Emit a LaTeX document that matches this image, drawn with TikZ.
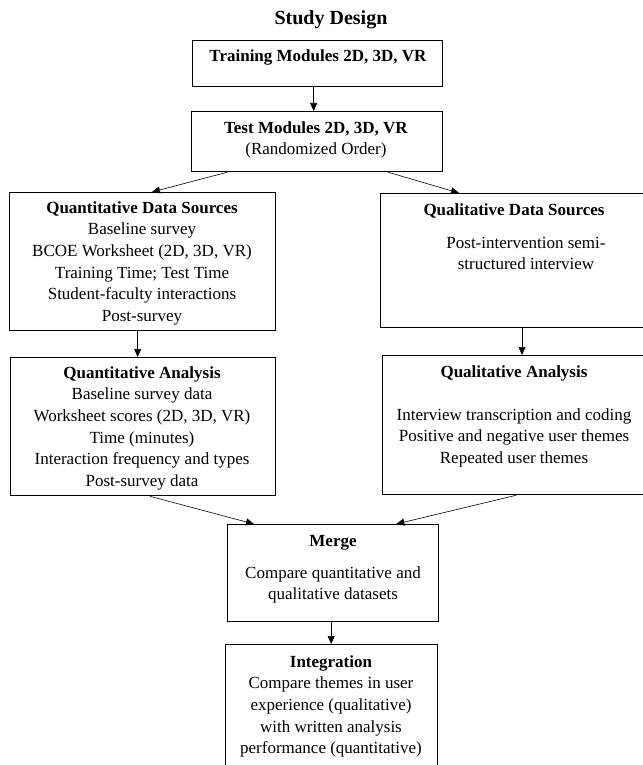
\documentclass[tikz,border=0pt]{standalone}
\usepackage{fontspec}
\setmainfont{Liberation Serif}
\usetikzlibrary{arrows.meta,calc}
\begin{document}
\begin{tikzpicture}[x=1pt,y=-1pt,
  box/.style={draw, line width=1.3pt, rectangle, inner sep=0pt, anchor=north west},
  txt/.style={anchor=north, inner sep=0pt, align=center, font=\fontsize{17}{21.6}\selectfont},
  arr/.style={line width=0.6pt, -{Triangle[length=8pt,width=7pt]}}]
\useasboundingbox (0,0) rectangle (642,765);
% boxes
\node[box, minimum width=250pt, minimum height=46pt] (b1) at (192,40) {};
\node[box, minimum width=251pt, minimum height=60pt] (b2) at (191,111) {};
\node[box, minimum width=266pt, minimum height=138pt] (qds) at (9,192) {};
\node[box, minimum width=268pt, minimum height=134pt] (lds) at (380,193) {};
\node[box, minimum width=265pt, minimum height=138pt] (qa) at (10,357) {};
\node[box, minimum width=266pt, minimum height=139pt] (la) at (382,355) {};
\node[box, minimum width=211pt, minimum height=97pt] (mg) at (227,524) {};
\node[box, minimum width=212pt, minimum height=130pt] (ig) at (225,644) {};
% texts
\node[txt, font=\fontsize{20}{24}\selectfont] (title) at (331,7.2) {\strut\textbf{Study Design}};
\node[txt] (t1) at (318,46) {\strut\textbf{Training Modules 2D, 3D, VR}};
\node[txt] (t2) at (316,118) {\strut\textbf{Test Modules 2D, 3D, VR}\\(Randomized Order)};
\node[txt] (t3) at (142,198) {\strut\textbf{Quantitative Data Sources}\\Baseline survey\\BCOE Worksheet (2D, 3D, VR)\\Training Time; Test Time\\Student-faculty interactions\\Post-survey};
\node[txt] (t4) at (514,200) {\strut\textbf{Qualitative Data Sources}};
\node[txt] (t4b) at (526,233) {\strut Post-intervention semi-\\structured interview};
\node[txt] (t5) at (142,363) {\strut\textbf{Quantitative Analysis}\\Baseline survey data\\Worksheet scores (2D, 3D, VR)\\Time (minutes)\\Interaction frequency and types\\Post-survey data};
\node[txt] (t6) at (514,362) {\strut\textbf{Qualitative Analysis}\\[21.4pt]Interview transcription and coding\\Positive and negative user themes\\Repeated user themes};
\node[txt] (t7) at (333,531) {\strut\textbf{Merge}\\[10.4pt]Compare quantitative and\\qualitative datasets};
\node[txt] (t8) at (331,652) {\strut\textbf{Integration}\\Compare themes in user\\experience (qualitative)\\with written analysis\\performance (quantitative)};
% arrows
\draw[arr] ([xshift=-4pt]b1.south) -- ([xshift=-4pt]b1.south |- b2.north);
\draw[arr] ([xshift=36pt]b2.south west) -- ([xshift=143pt]qds.north west);
\draw[arr] ([xshift=-55pt]b2.south east) -- ([xshift=79pt]lds.north west);
\draw[arr] ([xshift=-5pt]qds.south) -- ([xshift=-5pt]qds.south |- qa.north);
\draw[arr] ([xshift=142pt]lds.south west) -- ([xshift=142pt]lds.south west |- la.north);
\draw[arr] ([xshift=140pt]qa.south west) -- ([xshift=27pt]mg.north west);
\draw[arr] ([xshift=134pt]la.south west) -- ([xshift=-43pt]mg.north east);
\draw[arr] ([xshift=-2pt]mg.south) -- ([xshift=-2pt]mg.south |- ig.north);
\end{tikzpicture}
\end{document}
